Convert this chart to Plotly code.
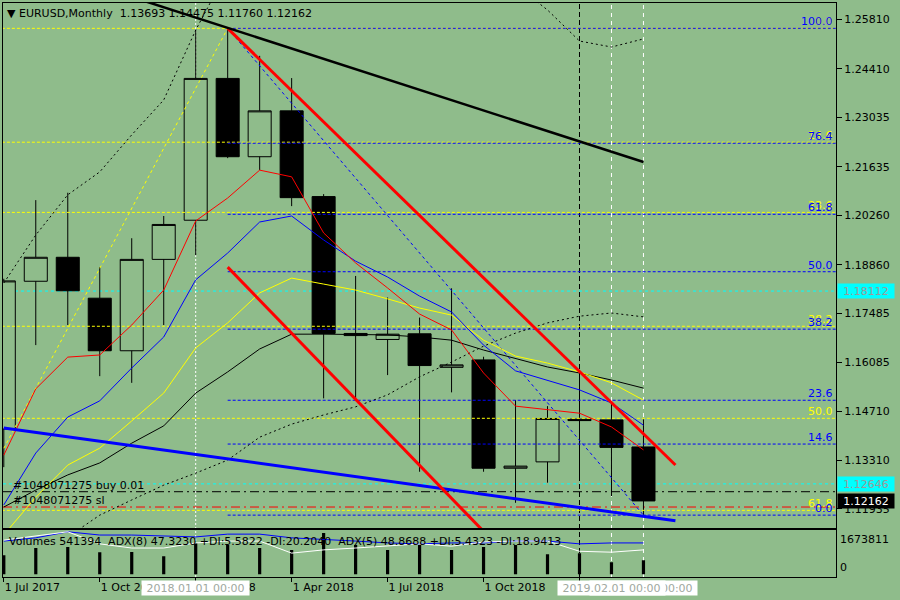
import plotly.graph_objects as go

# ── data (monthly bars Jul 2017 .. Mar 2019) ──────────────────────────────────
bar_labels = ["2017-07", "2017-08", "2017-09", "2017-10", "2017-11", "2017-12",
              "2018-01", "2018-02", "2018-03", "2018-04", "2018-05", "2018-06",
              "2018-07", "2018-08", "2018-09", "2018-10", "2018-11", "2018-12",
              "2019-01", "2019-02", "2019-03"]
bars = list(range(len(bar_labels)))

opens  = [1.1420, 1.1839, 1.1907, 1.1791, 1.1642, 1.1901, 1.2012, 1.2414, 1.2192, 1.2322, 1.2079,
          1.1691, 1.1674, 1.1690, 1.1595, 1.1616, 1.1309, 1.1327, 1.1448, 1.1446, 1.13693]
highs  = [1.1846, 1.2069, 1.2090, 1.1879, 1.1961, 1.2024, 1.2551, 1.2556, 1.2478, 1.2415, 1.2086,
          1.1854, 1.1793, 1.1736, 1.1819, 1.1625, 1.1502, 1.1485, 1.1583, 1.1493, 1.14475]
lows   = [1.1312, 1.1658, 1.1715, 1.1570, 1.1551, 1.1715, 1.1913, 1.2188, 1.2154, 1.2052, 1.1507,
          1.1507, 1.1573, 1.1299, 1.1524, 1.1299, 1.1211, 1.1268, 1.1280, 1.1230, 1.11760]
closes = [1.1840, 1.1907, 1.1812, 1.1642, 1.1901, 1.2000, 1.2414, 1.2192, 1.2322, 1.2076, 1.1691,
          1.1685, 1.1689, 1.1600, 1.1602, 1.1309, 1.1315, 1.1450, 1.1444, 1.1368, 1.12162]

ma_red    = [1.1346, 1.1534, 1.1624, 1.1630, 1.1715, 1.1814, 1.2010, 1.2075, 1.2154, 1.2135, 1.1976,
             1.1891, 1.1820, 1.1746, 1.1701, 1.1579, 1.1485, 1.1474, 1.1465, 1.1426, 1.1361]
ma_blue   = [1.1205, 1.1352, 1.1454, 1.1500, 1.1593, 1.1681, 1.1843, 1.1919, 1.2007, 1.2024, 1.1956,
             1.1896, 1.1851, 1.1797, 1.1752, 1.1658, 1.1585, 1.1559, 1.1531, 1.1494, 1.1431]
ma_yellow = [1.1120, 1.1227, 1.1318, 1.1366, 1.1443, 1.1522, 1.1650, 1.1721, 1.1806, 1.1848, 1.1831,
             1.1814, 1.1789, 1.1763, 1.1743, 1.1672, 1.1627, 1.1607, 1.1582, 1.1551, 1.1502]
ma_black  = [1.1199, 1.1247, 1.1290, 1.1324, 1.1380, 1.1429, 1.1522, 1.1582, 1.1647, 1.1689, 1.1689,
             1.1689, 1.1687, 1.1681, 1.1672, 1.1644, 1.1619, 1.1596, 1.1579, 1.1559, 1.1536]
band_up   = [1.1834, 1.1970, 1.2084, 1.2149, 1.2254, 1.2353, 1.2551, 1.2721, 1.2806, 1.2849, 1.2863,
             1.2857, 1.2840, 1.2821, 1.2792, 1.2755, 1.2679, 1.2608, 1.2520, 1.2503, 1.2526]
band_dn   = [1.1020, 1.1063, 1.1114, 1.1176, 1.1219, 1.1261, 1.1295, 1.1332, 1.1397, 1.1434, 1.1460,
             1.1483, 1.1517, 1.1568, 1.1610, 1.1655, 1.1692, 1.1721, 1.1740, 1.1749, 1.1738]

volumes   = [739850, 1012540, 1051760, 856930, 857210, 701460, 1207330, 1129840, 1013180, 934620,
             1597310, 1130470, 935110, 1129620, 934880, 1051240, 1130120, 779330, 818240, 467520, 541394]
adx_white = [78, 87, 96, 70, 61, 61, 72, 76, 76, 50, 57, 61, 65, 70, 65, 74, 76, 76, 54, 52, 57]
adx_blue  = [76, 83, 96, 89, 89, 87, 85, 91, 91, 83, 80, 76, 72, 70, 72, 72, 76, 76, 70, 72, 72]
volume_scale_max = 1673811

# drawn objects: (bar index, price) anchors
red_trend_x,   red_trend_y   = [7, 21], [1.2556, 1.1318]
red_trend2_x,  red_trend2_y  = [7, 15], [1.1879, 1.1130]
black_trend_x, black_trend_y = [4, 20], [1.2645, 1.2177]
blue_trend_x,  blue_trend_y  = [0, 21], [1.1423, 1.1160]

fib_blue_x,   fib_blue_y   = [7, 20], [1.2556, 1.1176]    # high -> low
fib_yellow_x, fib_yellow_y = [-6, 7], [1.0345, 1.2556]    # low -> high
fib_levels = [0.0, 14.6, 23.6, 38.2, 50.0, 61.8, 76.4, 100.0]

h_lines = [  # price, colour, dash
    (1.18112, "#00FFFF", "3px,3px"),
    (1.12646, "#00FFFF", "3px,3px"),
    (1.12424, "#000000", "9px,4px,2px,4px"),
    (1.11990, "#FF0000", "9px,4px,2px,4px"),
]
v_lines = [  # bar index, colour, dash
    (6, "#FFFFFF", "2px,2px"),
    (18, "#000000", "5px,3px"),
    (19, "#FFFFFF", "4px,4px"),
    (20, "#FFFFFF", "4px,4px"),
]

price_ticks = [1.25810, 1.24410, 1.23035, 1.21635, 1.20260, 1.18860,
               1.17485, 1.16085, 1.14710, 1.13310, 1.11935]
date_tick_bars   = [0, 3, 6, 9, 12, 15, 18]
date_tick_labels = ["1 Jul 2017", "1 Oct 2017", "1 Jan 2018", "1 Apr 2018",
                    "1 Jul 2018", "1 Oct 2018", "1 Jan 2019"]

header = "▼ EURUSD,Monthly  1.13693 1.14475 1.11760 1.12162"
sub_header = ("Volumes 541394  ADX(8) 47.3230 +DI:5.5822 -DI:20.2040  "
              "ADX(5) 48.8688 +DI:5.4323 -DI:18.9413")

# ── style ─────────────────────────────────────────────────────────────────────
BG = "#8FBC8B"
FONT = "DejaVu Sans"
X_RANGE = [-0.025, 26.02]
RAY_END = 27

fig = go.Figure()

# fib level rays (behind everything)
def fib_rays(xs, ys, color, from_high):
    hi, lo = max(ys), min(ys)
    x0 = xs[0]
    for lv in fib_levels:
        p = hi - (hi - lo) * lv / 100 if from_high else lo + (hi - lo) * lv / 100
        fig.add_trace(go.Scatter(x=[x0, RAY_END], y=[p, p], mode="lines",
                                 line=dict(color=color, width=1, dash="3px,2px"),
                                 hoverinfo="skip"))
    fig.add_trace(go.Scatter(x=xs, y=ys, mode="lines",
                             line=dict(color=color, width=1, dash="3px,3px"),
                             hoverinfo="skip"))

fib_rays(fib_yellow_x, fib_yellow_y, "#FFFF00", True)
fib_rays(fib_blue_x, fib_blue_y, "#0000FF", False)

# moving averages / bands
for ys, col, dash in [(band_up, "#000000", "2px,3px"), (band_dn, "#000000", "2px,3px"),
                      (ma_black, "#000000", None), (ma_yellow, "#FFFF00", None),
                      (ma_blue, "#0000FF", None), (ma_red, "#FF0000", None)]:
    fig.add_trace(go.Scatter(x=bars, y=ys, mode="lines",
                             line=dict(color=col, width=1, dash=dash), hoverinfo="skip"))

fig.add_trace(go.Scatter(x=blue_trend_x, y=blue_trend_y, mode="lines",
                         line=dict(color="#0000FF", width=3), hoverinfo="skip"))

# candles
fig.add_trace(go.Candlestick(
    x=bars, open=opens, high=highs, low=lows, close=closes,
    increasing=dict(line=dict(color="#000000", width=1), fillcolor=BG),
    decreasing=dict(line=dict(color="#000000", width=1), fillcolor="#000000"),
    whiskerwidth=0, hoverinfo="skip",
))

# trendlines on top
for xs, ys, col, w in [(red_trend_x, red_trend_y, "#FF0000", 3),
                       (red_trend2_x, red_trend2_y, "#FF0000", 3),
                       (black_trend_x, black_trend_y, "#000000", 2.5)]:
    fig.add_trace(go.Scatter(x=xs, y=ys, mode="lines", line=dict(color=col, width=w),
                             hoverinfo="skip"))

# lower panel: volumes + ADX
fig.add_trace(go.Bar(x=bars, y=volumes, width=0.1, marker=dict(color="#000000", line_width=0),
                     xaxis="x2", yaxis="y2", hoverinfo="skip"))
fig.add_trace(go.Scatter(x=bars, y=adx_blue, mode="lines", line=dict(color="#0000FF", width=1),
                         xaxis="x2", yaxis="y3", hoverinfo="skip"))
fig.add_trace(go.Scatter(x=bars, y=adx_white, mode="lines", line=dict(color="#FFFFFF", width=1),
                         xaxis="x2", yaxis="y3", hoverinfo="skip"))

# horizontal / vertical lines
for p, col, dash in h_lines:
    fig.add_shape(type="line", xref="x domain", x0=0, x1=1, yref="y", y0=p, y1=p,
                  line=dict(color=col, width=1, dash=dash), layer="below")
for b, col, dash in v_lines:
    fig.add_shape(type="line", xref="x", x0=b, x1=b, yref="paper", y0=0, y1=1,
                  line=dict(color=col, width=1, dash=dash), layer="below")

# ── annotations ──────────────────────────────────────────────────────────────
def label(text, **kw):
    base = dict(text=text, showarrow=False, font=dict(family=FONT, size=11, color="#000000"))
    base.update(kw)
    fig.add_annotation(**base)

hi, lo = max(fib_yellow_y), min(fib_yellow_y)
for lv in fib_levels:
    p = hi - (hi - lo) * lv / 100
    label(f"{lv:.1f}", xref="paper", x=1, xanchor="right", xshift=-1, yref="y", y=p,
          yanchor="bottom", yshift=-2, font=dict(family=FONT, size=11, color="#FFFF00"))
hi, lo = max(fib_blue_y), min(fib_blue_y)
for lv in fib_levels:
    p = lo + (hi - lo) * lv / 100
    label(f"{lv:.1f}", xref="paper", x=1, xanchor="right", xshift=-1, yref="y", y=p,
          yanchor="bottom", yshift=-2, font=dict(family=FONT, size=11, color="#0000FF"))

label(header, xref="paper", x=0, xanchor="left", xshift=2, yref="paper", y=1,
      yanchor="top", yshift=-2)
label(sub_header, xref="paper", x=0, xanchor="left", xshift=4, yref="y2 domain", y=1,
      yanchor="top", yshift=-3)
label("#1048071275 buy 0.01", xref="paper", x=0, xanchor="left", xshift=8,
      yref="y", y=h_lines[1][0], yanchor="middle", yshift=-1.5)
label("#1048071275 sl", xref="paper", x=0, xanchor="left", xshift=8,
      yref="y", y=h_lines[3][0], yanchor="middle", yshift=7)

# price boxes on the right scale
for p, bg, fg in [(h_lines[0][0], "#00FFFF", "#9a9a9a"), (h_lines[1][0], "#00FFFF", "#9a9a9a"),
                  (closes[-1], "#000000", "#FFFFFF")]:
    label(f"{p:.5f}", xref="paper", x=1, xanchor="left", xshift=1, yref="y", y=p,
          yanchor="middle", bgcolor=bg, width=54, height=12, borderpad=1,
          font=dict(family=FONT, size=11, color=fg))

label(str(volume_scale_max), xref="paper", x=1, xanchor="left", xshift=2,
      yref="y2 domain", y=1, yanchor="top", yshift=-1)
label("0", xref="paper", x=1, xanchor="left", xshift=2, yref="y2 domain", y=0,
      yanchor="bottom", yshift=1)

# date boxes (crosshair / vertical line labels)
for b, txt in [(6, "2018.01.01 00:00"), (20, "2019.03.01 00:00"), (19, "2019.02.01 00:00")]:
    label(txt, xref="x", x=b, xanchor="center", yref="paper", y=0, yanchor="top", yshift=-3,
          bgcolor="#FFFFFF", width=105, height=12, borderpad=1,
          font=dict(family=FONT, size=11, color="#a0a8a0"))

# ── layout ───────────────────────────────────────────────────────────────────
axis_line = dict(showline=True, mirror=True, linecolor="#000000", linewidth=1,
                 showgrid=False, zeroline=False, fixedrange=True)

fig.update_layout(
    width=900, height=600,
    margin=dict(l=3, r=64, t=3, b=23),
    paper_bgcolor=BG, plot_bgcolor=BG,
    font=dict(family=FONT, size=11, color="#000000"),
    showlegend=False, hovermode=False,
    boxgap=0.28, boxgroupgap=0,
    xaxis=dict(domain=[0, 1], range=X_RANGE, anchor="y", showticklabels=False,
               rangeslider=dict(visible=False), **axis_line),
    yaxis=dict(domain=[0.0848, 1], range=[1.11386, 1.26278], side="right", anchor="x",
               tickvals=price_ticks, tickformat=".5f", ticks="outside", ticklen=5,
               tickcolor="#000000", **axis_line),
    xaxis2=dict(domain=[0, 1], range=X_RANGE, anchor="y2", matches="x",
                tickvals=date_tick_bars, ticktext=date_tick_labels, ticks="outside",
                ticklen=4, tickcolor="#000000", ticklabelposition="outside right", **axis_line),
    yaxis2=dict(domain=[0, 0.0814], range=[-105000, 1702000], side="right", anchor="x2",
                showticklabels=False, **axis_line),
    yaxis3=dict(overlaying="y2", anchor="x2", range=[-1.5, 99.3], visible=False,
                fixedrange=True),
)

# drop the default page margin so the figure sits at the window corner
fig.write_html("out.html", config={"displayModeBar": False},
               post_script="document.body.style.margin='0';")
